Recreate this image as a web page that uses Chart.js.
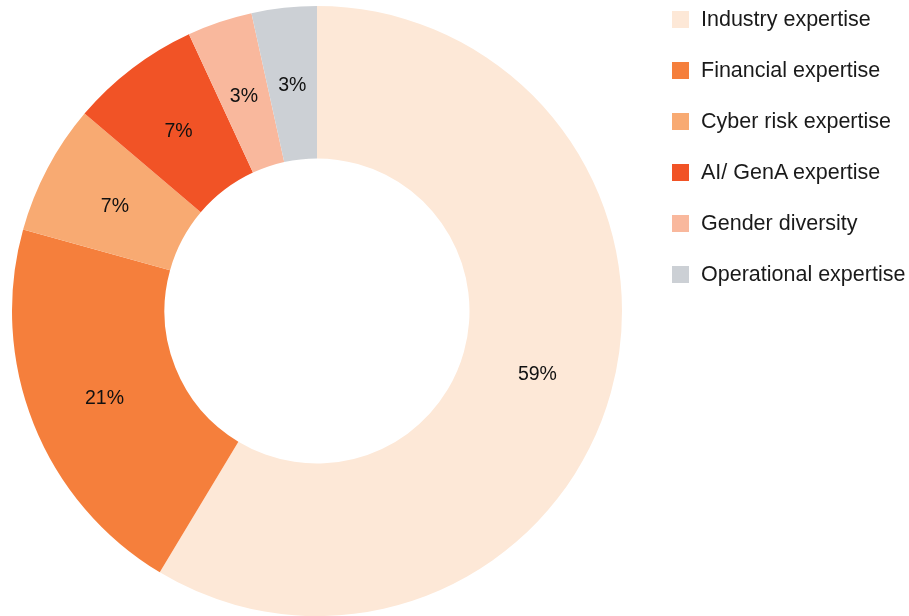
<!DOCTYPE html>
<html>
<head>
<meta charset="utf-8">
<script src="https://cdn.jsdelivr.net/npm/chart.js@4"></script>
<style>
  html, body { margin: 0; padding: 0; background: #fff; }
  #wrap { position: relative; width: 909px; height: 616px; }
  #legend { position: absolute; left: 672px; top: 0; font-family: "Liberation Sans", Arial, sans-serif; font-size: 21.5px; color: #1a1a1a; }
  .item { position: absolute; left: 0; white-space: nowrap; height: 17px; }
  .box { position: absolute; left: 0; top: 0; width: 17px; height: 17px; }
  .txt { position: absolute; left: 29px; top: -4px; line-height: 25px; }
</style>
</head>
<body>
<div id="wrap">
  <canvas id="chart" width="909" height="616"></canvas>
  <div id="legend"></div>
</div>
<script>
const labels = ['Industry expertise', 'Financial expertise', 'Cyber risk expertise', 'AI/ GenA expertise', 'Gender diversity', 'Operational expertise']
// counts per category (slice sizes), labels show rounded share
const values = [17, 6, 2, 2, 1, 1]
const colors = ['#fde8d7', '#f57f3c', '#f8aa72', '#f15326', '#f9b89d', '#ccd0d5']
const total = values.reduce((a, b) => a + b, 0)

// percentage labels in the middle of each slice
const sliceLabels = {
  id: 'sliceLabels',
  afterDatasetsDraw(chart) {
    const ctx = chart.ctx
    const meta = chart.getDatasetMeta(0)
    ctx.save()
    ctx.font = '19.5px "Liberation Sans", Arial, sans-serif'
    ctx.fillStyle = '#111'
    ctx.textAlign = 'center'
    ctx.textBaseline = 'middle'
    meta.data.forEach((arc, i) => {
      const p = arc.tooltipPosition()
      ctx.fillText(Math.round(values[i] / total * 100) + '%', p.x, p.y + 2.5)
    })
    ctx.restore()
  }
}

new Chart(document.getElementById('chart'), {
  type: 'doughnut',
  data: {
    labels: labels,
    datasets: [{
      data: values,
      backgroundColor: colors,
      borderWidth: 0
    }]
  },
  options: {
    responsive: false,
    animation: false,
    cutout: '50%',
    layout: { padding: { left: 12, top: 6, right: 287, bottom: 0 } },
    plugins: {
      legend: { display: false },
      tooltip: { enabled: false }
    }
  },
  plugins: [sliceLabels]
})

// legend
const legend = document.getElementById('legend')
labels.forEach((l, i) => {
  const item = document.createElement('div')
  item.className = 'item'
  item.style.top = (11 + i * 51) + 'px'
  item.innerHTML = '<div class="box" style="background:' + colors[i] + '"></div><div class="txt">' + l + '</div>'
  legend.appendChild(item)
})
</script>
</body>
</html>
